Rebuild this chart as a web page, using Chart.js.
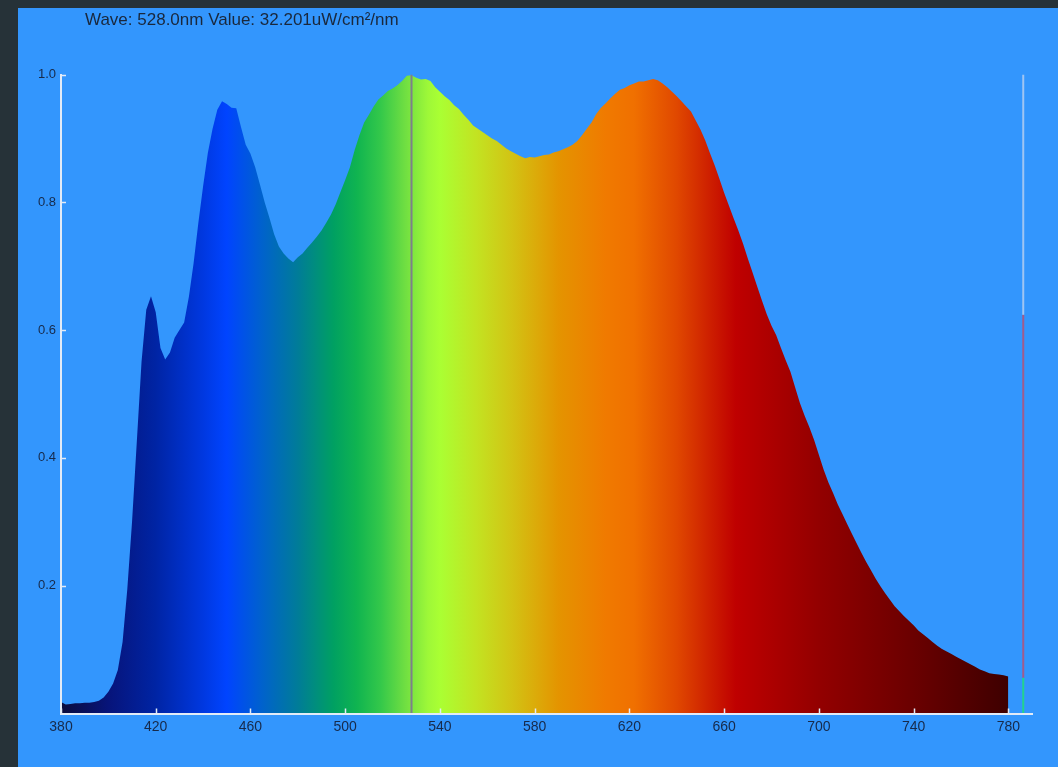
<!DOCTYPE html>
<html>
<head>
<meta charset="utf-8">
<title>Spectrum</title>
<script src="https://cdn.jsdelivr.net/npm/chart.js@4/dist/chart.umd.min.js"></script>
<style>
html, body { margin: 0; padding: 0; width: 1058px; height: 767px; overflow: hidden; background: #263238; }
#panel { position: absolute; left: 18px; top: 8px; width: 1040px; height: 759px; background: #3396fd; }
#readout { position: absolute; left: 67px; top: 2px; font: 17px "Liberation Sans", Arial, sans-serif; color: #1a283c; white-space: nowrap; }
</style>
</head>
<body>
<div id="panel">
  <div id="readout">Wave: 528.0nm Value: 32.201uW/cm²/nm</div>
  <canvas id="spectrum"></canvas>
</div>
<script>
// wavelength samples (nm) and relative irradiance
const waves = [
  380,382,384,386,388,390,392,394,396,398,
  400,402,404,406,408,410,412,414,416,418,
  420,422,424,426,428,430,432,434,436,438,
  440,442,444,446,448,450,452,454,456,458,
  460,462,464,466,468,470,472,474,476,478,
  480,482,484,486,488,490,492,494,496,498,
  500,502,504,506,508,510,512,514,516,518,
  520,522,524,526,528,530,532,534,536,538,
  540,542,544,546,548,550,552,554,556,558,
  560,562,564,566,568,570,572,574,576,578,
  580,582,584,586,588,590,592,594,596,598,
  600,602,604,606,608,610,612,614,616,618,
  620,622,624,626,628,630,632,634,636,638,
  640,642,644,646,648,650,652,654,656,658,
  660,662,664,666,668,670,672,674,676,678,
  680,682,684,686,688,690,692,694,696,698,
  700,702,704,706,708,710,712,714,716,718,
  720,722,724,726,728,730,732,734,736,738,
  740,742,744,746,748,750,752,754,756,758,
  760,762,764,766,768,770,772,774,776,778,
  780
];
const irradiance = [
  0.018,0.014,0.015,0.016,0.016,0.017,0.017,0.018,0.020,0.025,
  0.034,0.047,0.068,0.112,0.195,0.300,0.425,0.550,0.632,0.653,
  0.628,0.572,0.554,0.565,0.588,0.600,0.612,0.652,0.705,0.768,
  0.825,0.877,0.915,0.945,0.958,0.954,0.948,0.947,0.918,0.890,
  0.876,0.855,0.828,0.800,0.776,0.750,0.731,0.720,0.712,0.706,
  0.714,0.720,0.729,0.737,0.746,0.756,0.768,0.781,0.797,0.816,
  0.835,0.855,0.882,0.905,0.925,0.937,0.950,0.961,0.967,0.974,
  0.978,0.983,0.990,0.998,0.999,0.995,0.992,0.993,0.990,0.980,
  0.973,0.966,0.960,0.952,0.946,0.937,0.929,0.920,0.915,0.910,
  0.905,0.900,0.896,0.890,0.884,0.880,0.876,0.872,0.869,0.871,
  0.870,0.872,0.874,0.875,0.878,0.880,0.883,0.886,0.890,0.896,
  0.905,0.915,0.925,0.938,0.948,0.955,0.963,0.970,0.976,0.979,
  0.983,0.986,0.989,0.989,0.991,0.993,0.991,0.986,0.980,0.973,
  0.966,0.958,0.950,0.942,0.928,0.914,0.897,0.877,0.858,0.837,
  0.815,0.795,0.775,0.756,0.735,0.712,0.690,0.668,0.646,0.625,
  0.607,0.592,0.572,0.553,0.535,0.510,0.486,0.466,0.448,0.428,
  0.405,0.382,0.362,0.345,0.327,0.312,0.296,0.281,0.266,0.251,
  0.237,0.224,0.211,0.199,0.188,0.178,0.168,0.160,0.152,0.145,
  0.138,0.130,0.124,0.118,0.112,0.106,0.101,0.097,0.093,0.089,
  0.085,0.081,0.077,0.073,0.069,0.066,0.063,0.062,0.061,0.060,
  0.058
];
const xTicks = [380, 420, 460, 500, 540, 580, 620, 660, 700, 740, 780];
const yTicks = [0.2, 0.4, 0.6, 0.8, 1.0];

// cursor readout position
const cursorWave = 528;

// level bar on the right edge: [from, to] pairs
const levelWave = 786.3;
const levelSpans = [[0.624, 1.0], [0.056, 0.624], [0, 0.056]];
const levelColors = ['#9fc5f2', '#a05c8c', '#22d38e'];

// spectrum colour stops
const stopWaves  = [380, 400, 420, 440, 450, 465, 480, 495, 505, 515, 525, 535, 540, 555, 570, 590, 610, 622, 640, 655, 665, 700, 740, 780];
const stopColors = ['#0b0c3c', '#07147a', '#0024a4', '#0038e0', '#0044ff', '#0062cc', '#007c98', '#00a062', '#10b450', '#34c84a', '#6ede42', '#9ef838', '#aaff33', '#c2e422', '#d2c414', '#e49400', '#f07a00', '#f07000', '#e04800', '#cc1c00', '#bf0000', '#930000', '#6a0000', '#3e0000'];

const axisColor = '#e2ebf7';
const labelColor = '#172a4a';
const fontFamily = '"Liberation Sans", Arial, sans-serif';

function spectrumFill(context) {
  const chart = context.chart;
  if (!chart.chartArea) return 'transparent';
  const sx = chart.scales.x;
  const x0 = sx.getPixelForValue(stopWaves[0]);
  const x1 = sx.getPixelForValue(stopWaves[stopWaves.length - 1]);
  const g = chart.ctx.createLinearGradient(x0, 0, x1, 0);
  stopWaves.forEach((w, i) => {
    g.addColorStop((w - stopWaves[0]) / (stopWaves[stopWaves.length - 1] - stopWaves[0]), stopColors[i]);
  });
  return g;
}

// short tick marks pointing into the plot
const innerTicks = {
  id: 'innerTicks',
  afterDatasetsDraw(chart) {
    const {ctx, chartArea, scales} = chart;
    ctx.save();
    ctx.strokeStyle = axisColor;
    ctx.lineWidth = 1.5;
    ctx.beginPath();
    xTicks.forEach(v => {
      const px = Math.round(scales.x.getPixelForValue(v)) + 0.5;
      ctx.moveTo(px, chartArea.bottom);
      ctx.lineTo(px, chartArea.bottom - 5);
    });
    yTicks.forEach(v => {
      const py = Math.round(scales.y.getPixelForValue(v)) + 0.5;
      ctx.moveTo(chartArea.left, py);
      ctx.lineTo(chartArea.left + 5, py);
    });
    ctx.stroke();
    ctx.restore();
  }
};

const levelSets = levelSpans.map((s, i) => ({
  data: [{x: levelWave, y: s[0]}, {x: levelWave, y: s[1]}],
  borderColor: levelColors[i],
  borderWidth: 2,
  pointRadius: 0,
  fill: false,
  order: 0
}));

new Chart(document.getElementById('spectrum'), {
  type: 'line',
  data: {
    datasets: [
      {
        data: [{x: cursorWave, y: 0}, {x: cursorWave, y: 1}],
        borderColor: '#7e7e8c',
        borderWidth: 2,
        pointRadius: 0,
        fill: false,
        order: 0
      },
      ...levelSets,
      {
        data: waves.map((w, i) => ({x: w, y: irradiance[i]})),
        backgroundColor: spectrumFill,
        borderWidth: 0,
        borderColor: 'transparent',
        pointRadius: 0,
        tension: 0,
        fill: 'origin',
        order: 1
      }
    ]
  },
  options: {
    responsive: true,
    maintainAspectRatio: false,
    animation: false,
    events: [],
    layout: { padding: { top: 66.5, right: 26, bottom: 23.5, left: 0 } },
    plugins: { legend: { display: false }, tooltip: { enabled: false } },
    scales: {
      x: {
        type: 'linear',
        min: 380,
        max: 790,
        afterBuildTicks: s => { s.ticks = xTicks.map(v => ({value: v})); },
        afterFit: s => { s.height = 30; },
        grid: { display: false, drawTicks: false },
        border: { display: true, color: axisColor, width: 2, z: 1 },
        ticks: { color: labelColor, font: { family: fontFamily, size: 14 }, padding: 5, maxRotation: 0, autoSkip: false }
      },
      y: {
        min: 0,
        max: 1,
        afterBuildTicks: s => { s.ticks = yTicks.map(v => ({value: v})); },
        afterFit: s => { s.width = 43; },
        grid: { display: false, drawTicks: false },
        border: { display: true, color: axisColor, width: 2, z: 1 },
        ticks: { color: labelColor, font: { family: fontFamily, size: 13 }, padding: 5, callback: v => v.toFixed(1) }
      }
    }
  },
  plugins: [innerTicks]
});
</script>
</body>
</html>
